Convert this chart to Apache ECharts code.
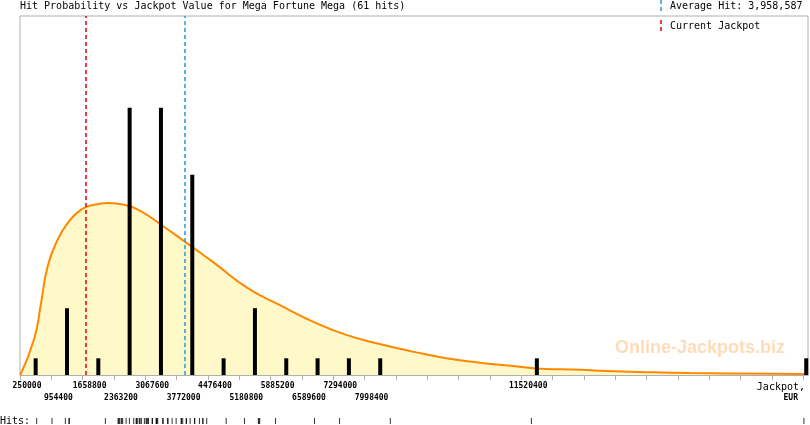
<!DOCTYPE html>
<html>
<head>
<meta charset="utf-8">
<script src="https://cdn.jsdelivr.net/npm/echarts@6/dist/echarts.min.js"></script>
<style>
html,body{margin:0;padding:0;background:#fff;}
#c{width:810px;height:425px;}
</style>
</head>
<body>
<div id="c"></div>
<script>
// ---- data ----
const TITLE = 'Hit Probability vs Jackpot Value for Mega Fortune Mega (61 hits)';
const AXIS_MIN = 250000;
const AXIS_MAX = 17970000;
const BIN = 704400;
const upperLabels = ['250000','1658800','3067600','4476400','5885200','7294000','11520400'];
const lowerLabels = ['954400','2363200','3772000','5180800','6589600','7998400'];
// histogram bars: bin centre value, number of hits
const barX = [602200,1306600,2011000,2715400,3419800,4124200,4828600,5533000,6237400,6941800,7646200,8350600,11872600,17930000];
const barHits = [1,4,1,16,16,12,1,4,1,1,1,1,1,1];
// probability curve (scaled to hit units)
const curveX = [257000,572000,723000,871000,1096000,1321000,1623000,1922000,2221000,2597000,2973000,3423000,3948000,4623000,5372000,6085000,6835000,7587000,8336000,9086000,9837000,10586000,11336000,12088000,12680000,13445000,14188000,15313000,17181000,17969000];
const curveY = [0,2.2,4.3,6.5,8.1,9.1,9.9,10.2,10.3,10.2,9.8,9.0,8.0,6.7,5.2,4.2,3.2,2.4,1.86,1.4,1.0,0.74,0.54,0.36,0.33,0.24,0.18,0.12,0.08,0.06];
// individual hits (for the "Hits:" strip)
const hitValues = [624000,970000,1270000,1350000,1360000,2170000,
  2455000,2470000,2485000,2523000,2540000,2559000,2636000,2710000,2807000,2861000,2870000,2897000,2935000,2950000,2980000,3047000,
  3086000,3100000,3122000,3140000,3221000,3230000,3311000,3320000,3330000,3347000,3459000,3470000,3565000,3580000,3671000,3761000,
  3873000,3880000,3909000,3986000,3995000,4076000,4173000,4180000,4285000,4359000,4365000,4449000,
  4886000,5298000,5610000,5625000,5640000,5996000,6873000,7436000,8577000,11750000,17878000];
const averageHit = 3958587;
const currentJackpot = 1726000;
const avgLabel = 'Average Hit: 3,958,587';
const curLabel = 'Current Jackpot';
const watermark = 'Online-Jackpots.biz';
const xUnit = 'Jackpot,';
const xUnit2 = 'EUR';
const hitsLabel = 'Hits:';

// ---- build ----
const off = v => v - AXIS_MIN;
const mono = 'DejaVu Sans Mono';
const RED = '#e00000', BLUE = '#2299e0';
function labelFmt(list){
  return function(v){
    const s = String(Math.round(v + AXIS_MIN));
    return list.indexOf(s) >= 0 ? s : '';
  };
}
function vline(value, color){
  return {type:'line', xAxisIndex:0, yAxisIndex:0, data:[], color:color, z:3,
    markLine:{silent:true, symbol:['none','none'], label:{show:false},
      lineStyle:{color:color, type:[4,3], width:1.5, opacity:1},
      emphasis:{disabled:true},
      data:[{xAxis:off(value), lineStyle:{color:color}}]}};
}
const chart = echarts.init(document.getElementById('c'), null, {renderer:'canvas'});
const xBase = {type:'value', min:0, max:off(AXIS_MAX), interval:BIN, splitLine:{show:false}};
chart.setOption({
  animation:false,
  backgroundColor:'#fff',
  grid:[
    {left:20, right:2, top:16, bottom:50, show:true, borderColor:'#b0b0b0', borderWidth:1, outerBoundsMode:'none', containLabel:false},
    {left:20, right:2, top:418, height:6, show:false, outerBoundsMode:'none', containLabel:false}
  ],
  xAxis:[
    Object.assign({}, xBase, {gridIndex:0, position:'bottom',
      axisLine:{show:true, lineStyle:{color:'#b0b0b0', width:1}},
      axisTick:{show:true, length:5, lineStyle:{color:'#b0b0b0'}},
      axisLabel:{show:true, margin:7, fontFamily:mono, fontSize:8, fontWeight:'bold', color:'#000', padding:[0,0,0,14], formatter:labelFmt(upperLabels), showMinLabel:true, showMaxLabel:false}}),
    Object.assign({}, xBase, {gridIndex:0, position:'bottom',
      axisLine:{show:false}, axisTick:{show:false},
      axisLabel:{show:true, margin:19, fontFamily:mono, fontSize:8, fontWeight:'bold', color:'#000', padding:[0,0,0,14], formatter:labelFmt(lowerLabels), showMinLabel:false, showMaxLabel:false}}),
    Object.assign({}, xBase, {gridIndex:1, show:false})
  ],
  yAxis:[
    {gridIndex:0, type:'value', min:0, max:21.5, show:false, splitLine:{show:false}},
    {gridIndex:1, type:'value', min:0, max:1, show:false, splitLine:{show:false}}
  ],
  series:[
    {type:'line', xAxisIndex:0, yAxisIndex:0, data:curveX.map((x,i)=>[off(x), curveY[i]]),
     smooth:true, symbol:'none', clip:true,
     lineStyle:{color:'#ff8800', width:2}, areaStyle:{color:'#fff8c8', opacity:1}, z:2},
    vline(currentJackpot, RED),
    vline(averageHit, BLUE),
    {type:'bar', xAxisIndex:0, yAxisIndex:0, data:barX.map((x,i)=>[off(x), barHits[i]]),
     barWidth:4, itemStyle:{color:'#000'}, clip:true, z:4},
    {type:'scatter', xAxisIndex:2, yAxisIndex:1, data:hitValues.map(v=>[off(v), 0.5]),
     symbol:'rect', symbolSize:[1,6], itemStyle:{color:'#000'}}
  ],
  graphic:[
    {type:'text', left:20, top:1, style:{text:TITLE, font:'10px "'+mono+'"', fill:'#000'}},
    {type:'line', shape:{x1:661,y1:0,x2:661,y2:13}, style:{stroke:BLUE, lineWidth:1.5, lineDash:[4,3]}},
    {type:'text', left:670, top:1, style:{text:avgLabel, font:'10px "'+mono+'"', fill:'#000'}},
    {type:'line', shape:{x1:661,y1:20,x2:661,y2:33}, style:{stroke:RED, lineWidth:1.5, lineDash:[4,3]}},
    {type:'text', left:670, top:21, style:{text:curLabel, font:'10px "'+mono+'"', fill:'#000'}},
    {type:'text', x:700, y:348, z:1, style:{text:watermark, font:'bold 18px "Liberation Sans"', fill:'#ffdcb8', align:'center', verticalAlign:'middle'}},
    {type:'text', x:805, y:387, style:{text:xUnit, font:'10px "'+mono+'"', fill:'#000', align:'right', verticalAlign:'middle'}},
    {type:'text', x:798, y:398, style:{text:xUnit2, font:'bold 8px "'+mono+'"', fill:'#000', align:'right', verticalAlign:'middle'}},
    {type:'text', x:0, y:421, style:{text:hitsLabel, font:'10px "'+mono+'"', fill:'#000', align:'left', verticalAlign:'middle'}}
  ]
});
</script>
</body>
</html>
